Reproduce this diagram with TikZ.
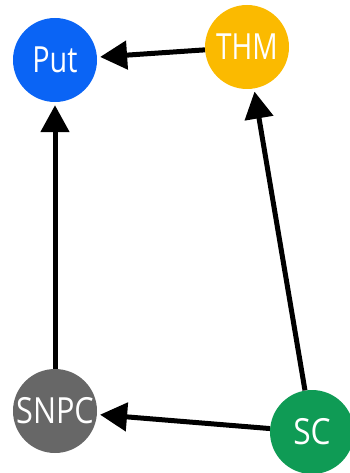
\documentclass[tikz,border=0pt]{standalone}
\usepackage{fontspec}
\setmainfont{Open Sans}
\usetikzlibrary{arrows.meta}
\definecolor{cput}{HTML}{0A64F5}
\definecolor{cthm}{HTML}{FBBA00}
\definecolor{csnpc}{HTML}{676767}
\definecolor{csc}{HTML}{0F9B55}
\tikzset{
  vnode/.style={circle, minimum size=84pt, inner sep=0pt, text=white,
    font=\fontsize{36}{36}\selectfont},
  edge/.style={line width=5pt, -{Triangle[length=27pt,width=28pt]}, shorten >=3pt}
}
\begin{document}
\begin{tikzpicture}[x=1pt,y=-1pt]
\useasboundingbox (0,0) rectangle (350,473);
\node[vnode, fill=cput] (put) at (55,60) {\scalebox{0.8}[1]{Put}};
\node[vnode, fill=cthm] (thm) at (247,47) {\scalebox{0.78}[1]{THM}};
\node[vnode, fill=csnpc] (snpc) at (55,411) {\scalebox{0.85}[1]{SNPC}};
\node[vnode, fill=csc] (sc) at (312,432) {\scalebox{0.88}[1]{SC}};
\draw[edge] (thm) -- (put);
\draw[edge] (snpc) -- (put);
\draw[edge] (sc) -- (thm);
\draw[edge] (sc) -- (snpc);
\end{tikzpicture}
\end{document}
